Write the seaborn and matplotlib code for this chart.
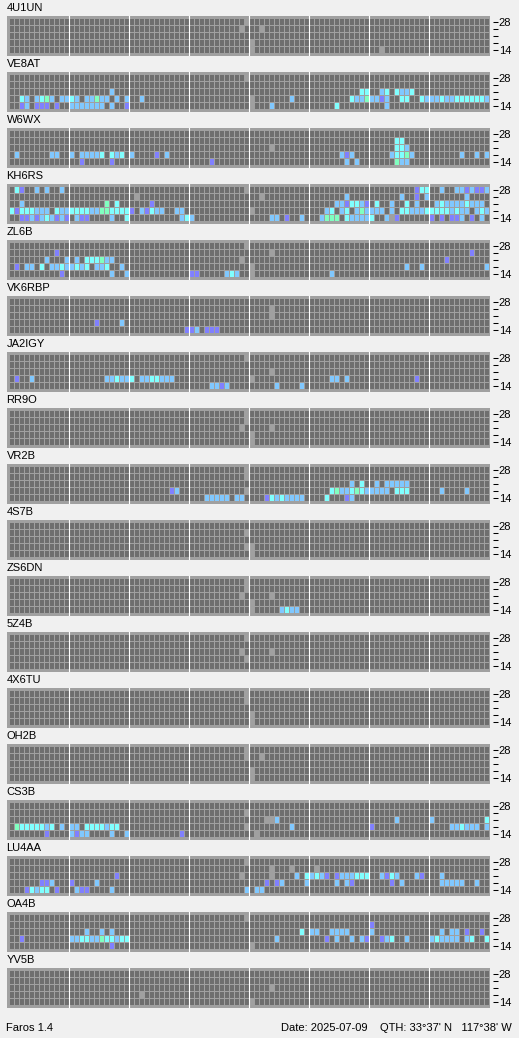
import matplotlib
matplotlib.use("Agg")
import matplotlib.pyplot as plt
from matplotlib.colors import ListedColormap
import numpy as np
import seaborn as sns

# Beacon names, top to bottom
stations = ["4U1UN", "VE8AT", "W6WX", "KH6RS", "ZL6B", "VK6RBP", "JA2IGY", "RR9O", "VR2B",
            "4S7B", "ZS6DN", "5Z4B", "4X6TU", "OH2B", "CS3B", "LU4AA", "OA4B", "YV5B"]
band_labels = ["28", "", "", "", "14"]   # rows: 28, 24, 21, 18, 14 MHz
n_slots = 96

# Heard slots per band row (top row = 28 MHz). token = <slot><level>
# l = no data, p = weak, b = medium, c = strong, g = very strong
B_4U1UN = ["47l", "46l 50l", "", "48l", "48l 74l"]
B_VE8AT = ["47l", "",
           "20b 70c 71c 74b 75c 77c 78b 79b 80c",
           "2c 3b 5b 6c 7g 8b 10b 11b 12c 13b 15b 16b 17g 18b 19b 21b 23b 26b 48l 56b 68c 69b 70b "
           "71g 72b 73b 74p 75b 78c 79c 82c 83b 84b 85b 86c 87b 88b 89c 90c 91c 92c 93c 94c 95b",
           "2p 3b 5p 6p 7p 9p 12b 13b 14b 15b 16b 17b 18b 20b 23p 48l 52b 65c 75b"]
B_W6WX = ["", "77c 78c", "52l 77c 78c 79b",
          "1b 8b 9b 12b 14b 15b 16b 17b 18c 20c 21b 22c 24b 29p 31b 66b 67p 68b 76b 77c 78c 79g 80b 90b 93b 95b",
          "14p 20p 40p 67b 69b 77g 78b 79b"]
B_KH6RS = ["1c 2p 5b 7b 10b 47l 81p 82c 83c 86b 89b 90b 91p 92b 93p 94p 95b",
           "25l 50l 67b 78b 81p 83b 91b",
           "2b 19g 21c 28p 65b 66b 67p 68c 69c 70b 71p 73c 76b 79c 81b 85b 86c 87b 88b 89b 90b 91c 92b 93b 94b",
           "0c 1p 2c 3c 4c 5b 6b 7b 9c 10b 11b 12c 13c 14c 15c 16b 17b 18g 19g 20c 21c 22c 23c 24p 26b 27p "
           "28c 29b 30b 33b 34b 48l 63b 64c 66b 67c 69b 70g 71b 72b 73b 74b 76b 78c 79c 80b 81b 82b 83c 84c "
           "85c 86c 87c 88b 89c 90b 91b 93b 94c 95b",
           "2p 3p 4b 5p 6b 7c 8b 9p 10b 11p 13b 14p 15p 20b 23c 34b 35c 36b 52b 53b 55p 58b 62b 63g 64g 65g "
           "67c 68b 69b 70b 71b 72c 75b 76l 77p 84p 86p 88p 89p 90b 92p 94b"]
B_ZL6B = ["47l", "9p 52l 92p",
          "7b 11b 13b 15c 16c 17c 18g 19b 20b 46l 87p",
          "1p 3b 4b 6c 8b 9b 10c 11b 12b 13c 14b 15c 17b 18b 19c 22b 48l 79b 82b 95b",
          "10p 20b 23b 36p 37p 43b 44c 45b 48l 64b"]
B_VK6RBP = ["", "52l", "52l", "17p 22b", "35p 36p 37b 39p 40p 41p"]
B_JA2IGY = ["47l", "", "52l",
            "1p 4b 19b 20b 21c 22b 23b 24c 26b 27b 28c 29c 30b 31b 32b 48l 64b 65b 67b 81p",
            "40b 41b 42p 43b 53b 58b"]
B_RR9O = ["47l", "47l", "46l 52l", "48l", "48l"]
B_VR2B = ["47l", "47l",
          "68b 70c 73b 75b 76b 77b 78b 79b",
          "32p 33b 47l 64c 65g 66b 67b 68c 69g 70c 71b 72b 73b 74b 75b 77c 78c 79c 86b 91b",
          "39b 40b 41b 42b 43b 45b 46b 51p 52c 53b 54c 55b 56b 57b 58b 63c 67p 68b"]
B_4S7B = ["", "47l", "", "47l 48l", "48l"]
B_ZS6DN = ["47l", "47l", "46l 52l", "48l", "48l 54b 55c 56b 57b"]
B_5Z4B = ["47l", "", "46l 52l", "47l", ""]
B_4X6TU = ["47l", "47l", "", "48l", "48l"]
B_OH2B = ["47l", "47l 50l", "", "48l", "48l"]
B_CS3B = ["", "47l",
          "51l 52l 53b 77b 84b 95c",
          "1g 2c 3c 4c 5c 6c 7b 8c 10b 12b 13b 15c 16c 17c 18c 19b 20c 21c 47l 56b 72p 88b 89b 90c 91b 92b 93b 95b",
          "7p 12b 13p 14b 15b 20b 23b 34p 49l"]
B_LU4AA = ["47l", "52l 56l 61l",
           "21p 46l 52l 57b 59c 60b 61c 62b 63p 65p 66b 67b 68b 69c 70c 71c 74b 75p 76c 77b 81b 82p 86b",
           "6p 7p 8b 12p 17b 51p 53p 54b 59b 65b 67b 68p 76p 78b 86b 87b 88b 89b 90b 93b",
           "3p 4c 5b 6c 7c 9p 13b 14p 15p 20b 47b 49b 50b"]
B_OA4B = ["47l", "72p",
          "15b 18b 20b 58c 60b 61b 64b 65b 66b 67b 72b 86b 88b 89b 91p 94p",
          "2p 12b 13b 14c 15c 16b 17b 18g 19c 20c 21b 22c 23c 53b 63p 65b 68b 70b 71p 74p 75b 76c 79b "
          "84b 85c 86b 87b 88b 89b 91b 92c 95c",
          "20p 48l"]
B_YV5B = ["", "", "52l", "26l", "48l"]

spots = [B_4U1UN, B_VE8AT, B_W6WX, B_KH6RS, B_ZL6B, B_VK6RBP, B_JA2IGY, B_RR9O, B_VR2B,
         B_4S7B, B_ZS6DN, B_5Z4B, B_4X6TU, B_OH2B, B_CS3B, B_LU4AA, B_OA4B, B_YV5B]

levels = {"l": 1, "p": 2, "b": 3, "c": 4, "g": 5}
cmap = ListedColormap(["#6E6E6E", "#A0A0A0", "#8080FF", "#80C8FF", "#80FFFF", "#80FFC0"])


def to_grid(rows):
    grid = np.zeros((5, n_slots), dtype=int)
    for r, line in enumerate(rows):
        for tok in line.split():
            grid[r, int(tok[:-1])] = levels[tok[-1]]
    return grid


plt.rcParams["font.family"] = ["Liberation Sans", "DejaVu Sans"]
W, H = 519, 1038
fig = plt.figure(figsize=(W / 100, H / 100), dpi=100, facecolor="#F0F0F0")

for k, (name, rows) in enumerate(zip(stations, spots)):
    top = 16 + 56 * k
    ax = fig.add_axes([7 / W, 1 - (top + 40) / H, 483 / W, 40 / H])
    sns.heatmap(to_grid(rows), ax=ax, cmap=cmap, vmin=-0.5, vmax=5.5, cbar=False,
                linewidths=0.72, linecolor="#A0A0A0", xticklabels=False)
    ax.set_facecolor("#A0A0A0")
    ax.set_xlim(-0.3, n_slots + 0.3)
    ax.set_ylim(5.4, -0.3)
    for x in range(12, n_slots, 12):
        ax.axvline(x, color="white", lw=0.8)
    # band ticks sit a few pixels right of the frame
    for s in ax.spines.values():
        s.set_visible(True)
        s.set_color("none")
    ax.spines["right"].set_position(("outward", 2.2))
    ax.yaxis.tick_right()
    ax.set_yticks(np.arange(5) + 0.5)
    ax.set_yticklabels(band_labels, rotation=0)
    ax.tick_params(axis="y", left=False, right=True, labelleft=False, labelright=True,
                   direction="out", length=3.6, width=0.75, color="black",
                   pad=0.6, labelsize=8, labelcolor="black")
    fig.text(6.5 / W, 1 - (top - 8) / H, name, fontsize=8, va="center", ha="left", color="black")

fig.text(6.5 / W, 1 - 1028 / H, "Faros 1.4", fontsize=8, va="center", ha="left")
fig.text(512 / W, 1 - 1028 / H, "Date: 2025-07-09    QTH: 33°37' N   117°38' W",
         fontsize=8, va="center", ha="right")

fig.savefig("out.png", dpi=100)
